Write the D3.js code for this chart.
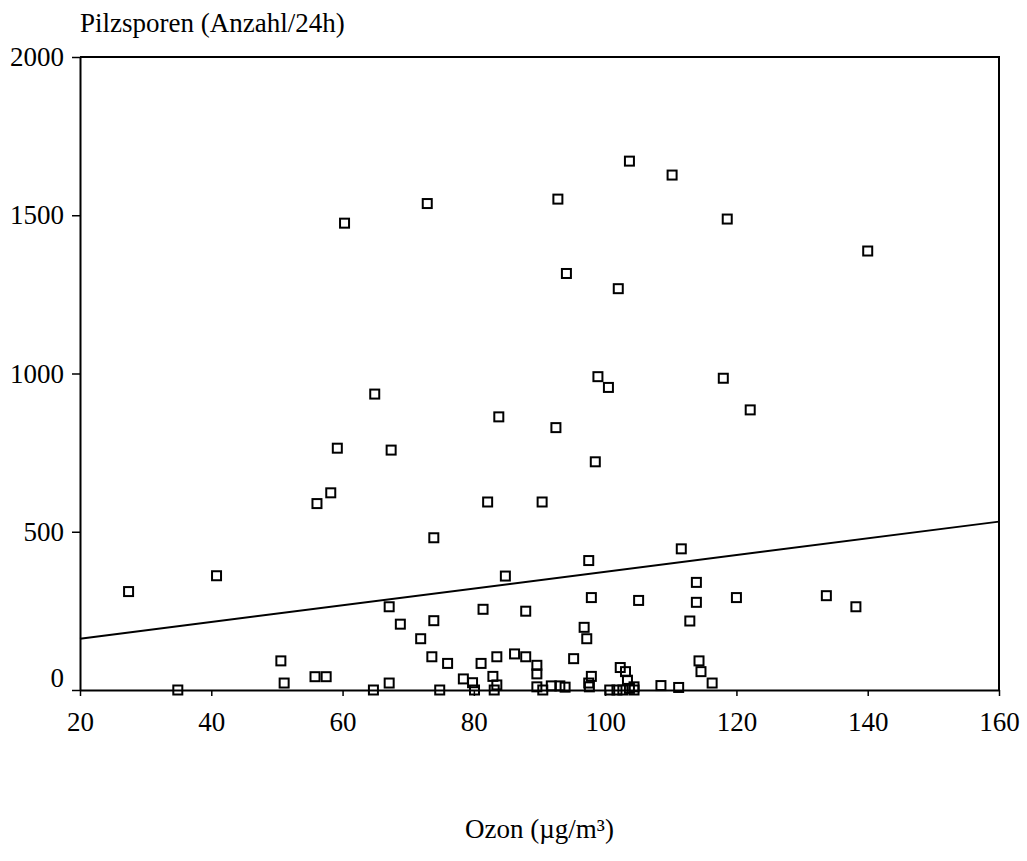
<!DOCTYPE html>
<html>
<head>
<meta charset="utf-8">
<script src="https://cdn.jsdelivr.net/npm/d3@7"></script>
<style>
  html, body { margin: 0; padding: 0; background: #fff; }
  svg { display: block; }
  text { font-family: "Liberation Serif", "Times New Roman", serif; fill: #000; }
</style>
</head>
<body>
<svg id="chart" width="1027" height="861"></svg>
<script>
// Ozone concentration (µg/m³) per measuring day
const ozone = [
  60.3, 64.9, 59.2, 67.4, 58.2, 56.1, 103.7, 110.2, 72.9, 92.8,
  118.6, 94.1, 102.0, 98.9, 100.5, 118.0, 83.8, 92.5, 98.5, 82.1,
  90.4, 73.9, 111.6, 97.5, 140.0, 122.1, 27.4, 40.8, 84.8, 113.9,
  113.9, 67.1, 81.4, 87.9, 97.9, 105.1, 112.9, 68.8, 73.9, 96.8,
  97.2, 71.9, 120.0, 133.7, 138.2, 50.6, 51.1, 55.8, 57.5, 34.9,
  64.7, 73.6, 76.0, 81.1, 83.5, 86.2, 87.9, 89.6, 89.6, 95.2,
  114.3, 114.6, 67.1, 78.4, 79.8, 82.9, 83.5, 102.3, 103.1, 103.4,
  97.9, 97.5, 91.8, 93.1, 93.9, 108.5, 111.2, 116.3, 74.8, 80.1,
  83.1, 89.6, 90.5, 100.7, 101.8, 102.7, 103.7, 104.4, 104.4, 97.6
];

// Fungal spore count per 24 h on the same days
const spores = [
  1475, 935, 764, 758, 623, 589, 1671, 1627, 1537, 1551,
  1488, 1316, 1268, 990, 956, 985, 863, 829, 721, 594,
  594, 481, 446, 409, 1387, 885, 311, 361, 360, 340,
  277, 263, 255, 249, 292, 283, 218, 208, 219, 198,
  162, 162, 292, 298, 263, 92, 22, 42, 42, 0,
  0, 105, 84, 84, 105, 114, 105, 78, 51, 99,
  92, 58, 22, 35, 23, 43, 16, 71, 58, 31,
  43, 22, 13, 13, 9, 14, 8, 22, 0, 0,
  0, 10, 0, 0, 0, 0, 5, 10, 0, 10
];

// Fitted linear trend, given at both ends of the ozone range
const trendOzone = [20, 160];
const trendSpores = [162, 532];

const xTicks = [20, 40, 60, 80, 100, 120, 140, 160];
const yTicks = [0, 500, 1000, 1500, 2000];

const xTitle = "Ozon (µg/m³)";
const yTitle = "Pilzsporen (Anzahl/24h)";

const svg = d3.select("#chart");
const plotLeft = 80, plotRight = 999, plotTop = 57, plotBottom = 690;
const fontSize = 27;
const serif = '"Liberation Serif", "Times New Roman", serif';

const x = d3.scaleLinear().domain([20, 160]).range([plotLeft, plotRight]);
const y = d3.scaleLinear().domain([0, 2000]).range([plotBottom, plotTop]);

// Frame around the plotting area (top and right edges)
svg.append("path")
  .attr("d", `M${plotLeft},${plotTop}H${plotRight}V${plotBottom}`)
  .attr("fill", "none")
  .attr("stroke", "#000")
  .attr("stroke-width", 2);

// Bottom axis
const xAxis = svg.append("g")
  .attr("transform", `translate(0,${plotBottom})`)
  .call(d3.axisBottom(x).tickValues(xTicks).tickFormat(d3.format("d"))
    .tickSize(6).tickPadding(16).tickSizeOuter(0));
xAxis.select(".domain").attr("stroke-width", 2);
xAxis.selectAll(".tick line").attr("stroke-width", 1.5);
xAxis.selectAll("text")
  .style("font-family", serif)
  .style("font-size", fontSize + "px");

// Left axis
const yAxis = svg.append("g")
  .attr("transform", `translate(${plotLeft},0)`)
  .call(d3.axisLeft(y).tickValues(yTicks).tickFormat(d3.format("d"))
    .tickSize(8).tickPadding(8).tickSizeOuter(0));
yAxis.select(".domain").attr("stroke-width", 2);
yAxis.selectAll(".tick line").attr("stroke-width", 1.5);
yAxis.selectAll("text")
  .style("font-family", serif)
  .style("font-size", fontSize + "px")
  // the zero label is lifted so it clears the bottom axis line
  .attr("y", d => d === 0 ? -12 : 0);
svg.selectAll(".domain, .tick line").attr("stroke", "#000");

// Trend line
svg.append("line")
  .attr("x1", x(trendOzone[0])).attr("y1", y(trendSpores[0]))
  .attr("x2", x(trendOzone[1])).attr("y2", y(trendSpores[1]))
  .attr("stroke", "#000")
  .attr("stroke-width", 2);

// Observations as open squares
const side = 9;
svg.append("g")
  .selectAll("rect")
  .data(ozone.map((o, i) => [o, spores[i]]))
  .join("rect")
  .attr("x", d => x(d[0]) - side / 2)
  .attr("y", d => y(d[1]) - side / 2)
  .attr("width", side)
  .attr("height", side)
  .attr("fill", "none")
  .attr("stroke", "#000")
  .attr("stroke-width", 2);

// Axis titles
svg.append("text")
  .attr("x", plotLeft)
  .attr("y", 32)
  .style("font-family", serif)
  .style("font-size", fontSize + "px")
  .text(yTitle);

svg.append("text")
  .attr("x", (plotLeft + plotRight) / 2)
  .attr("y", 838)
  .attr("text-anchor", "middle")
  .style("font-family", serif)
  .style("font-size", fontSize + "px")
  .text(xTitle);
</script>
</body>
</html>
